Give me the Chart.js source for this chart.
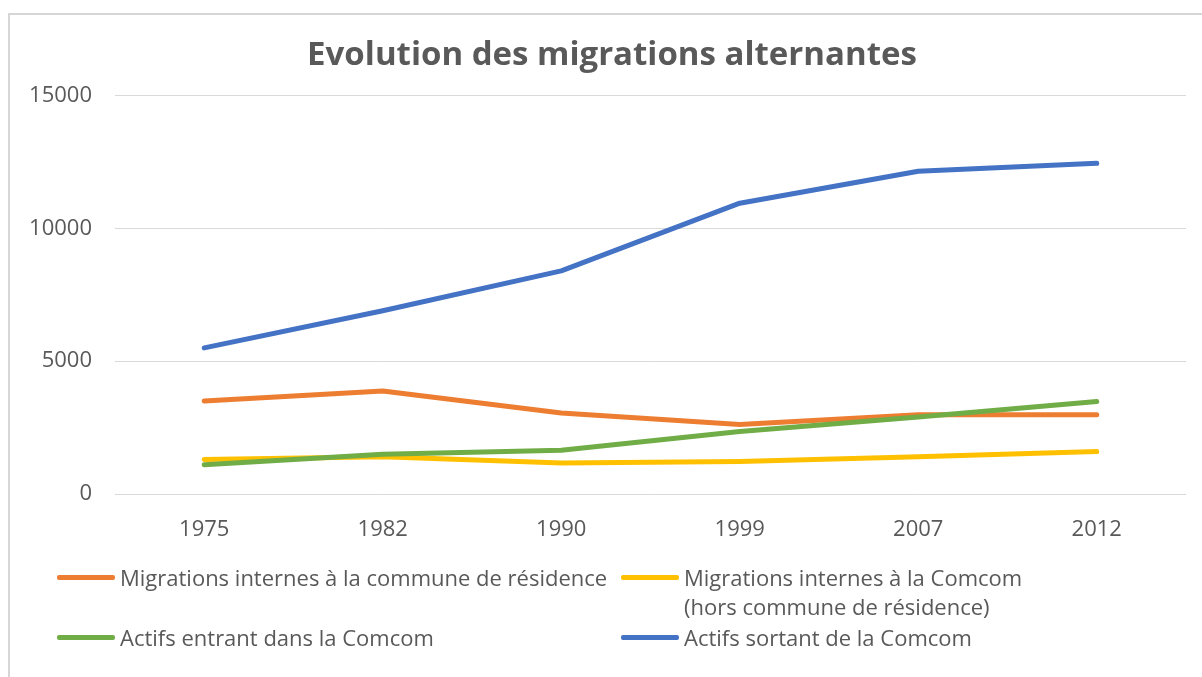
<!DOCTYPE html>
<html><head><meta charset="utf-8">
<script src="https://cdn.jsdelivr.net/npm/chart.js@4/dist/chart.umd.min.js"></script>
<style>
html,body{margin:0;padding:0;background:#fff;width:1202px;height:677px;overflow:hidden;}
#frame{position:absolute;left:8px;top:13px;width:1220px;height:700px;border-left:2px solid #d6d6d6;border-top:2px solid #d6d6d6;box-sizing:border-box;}
#wrap{position:absolute;left:0;top:0;width:1202px;height:677px;overflow:hidden;}
#legend{position:absolute;left:0;top:0;width:1202px;height:677px;pointer-events:none;font-family:"Open Sans",Lato,sans-serif;font-size:22px;color:#595959;}
.item{position:absolute;display:flex;align-items:flex-start;line-height:29px;}
.swatch{width:58px;height:5px;border-radius:2px;margin-top:12px;margin-right:5px;flex:none;}
</style></head>
<body>
<div id="frame"></div>
<div id="wrap"><canvas id="c" width="1230" height="677"></canvas></div>
<div id="legend"></div>
<script>
const categories = ['1975','1982','1990','1999','2007','2012'];
const internesCommune = [3500,3880,3050,2620,2980,2980];
const internesComcom  = [1300,1400,1170,1220,1400,1600];
const actifsEntrant   = [1100,1500,1650,2350,2900,3480];
const actifsSortant   = [5500,6900,8400,10950,12150,12450];
const yTicks = [0,5000,10000,15000];
const seriesLabels = [
  ['Migrations internes à la commune de résidence'],
  ['Migrations internes à la Comcom','(hors commune de résidence)'],
  ['Actifs entrant dans la Comcom'],
  ['Actifs sortant de la Comcom']
];
const seriesColors = ['#ED7D31','#FFC000','#70AD47','#4472C4'];
const titleText = 'Evolution des migrations alternantes';

const seriesData = [internesCommune, internesComcom, actifsEntrant, actifsSortant];
const datasets = seriesData.map((d,i)=>({
  label: seriesLabels[i].join(' '),
  data: d,
  yAxisID: 'y',
  borderColor: seriesColors[i],
  backgroundColor: seriesColors[i],
  borderWidth: 5,
  pointRadius: 0,
  tension: 0,
  borderCapStyle: 'round',
  borderJoinStyle: 'round',
  fill: false,
  order: 4 - i
}));

const FONT = '"Open Sans", Lato, sans-serif';
const chart = new Chart(document.getElementById('c'), {
  type: 'line',
  data: { labels: categories, datasets },
  options: {
    responsive: false,
    animation: false,
    layout: { padding: { left: 10, right: 16, top: 0, bottom: 123 } },
    plugins: {
      legend: { display: false },
      tooltip: { enabled: false },
      title: {
        display: true, text: titleText, color: '#595959',
        font: { family: FONT, size: 33, weight: 'bold' },
        padding: { top: 36, bottom: 20 }
      }
    },
    scales: {
      x: {
        offset: true,
        grid: { display: false, drawTicks: false },
        border: { display: false },
        ticks: { color: '#595959', font: { family: FONT, size: 22 }, padding: 23, maxRotation: 0 },
        afterFit: s => { s.height = 60; }
      },
      y: {
        min: 0, max: 15000,
        afterBuildTicks: s => { s.ticks = yTicks.map(v => ({ value: v })); },
        grid: { color: '#d9d9d9', lineWidth: 1, drawTicks: false },
        border: { display: false },
        ticks: { color: '#595959', font: { family: FONT, size: 22 }, padding: 23, callback: v => String(v) },
        afterFit: s => { s.width = 105; }
      },
      yRight: {
        position: 'right', min: 0, max: 15000,
        grid: { display: false, drawTicks: false },
        border: { display: false },
        ticks: { display: false },
        afterFit: s => { s.width = 28; }
      }
    }
  }
});

// HTML legend built from chart datasets
const legendPos = [[57,563],[621,563],[57,623],[621,623]];
const leg = document.getElementById('legend');
chart.data.datasets.forEach((ds,i)=>{
  const it = document.createElement('div');
  it.className = 'item';
  it.style.left = legendPos[i][0]+'px';
  it.style.top = legendPos[i][1]+'px';
  const sw = document.createElement('div');
  sw.className = 'swatch';
  sw.style.background = ds.borderColor;
  const tx = document.createElement('div');
  tx.innerHTML = seriesLabels[i].join('<br>');
  it.appendChild(sw); it.appendChild(tx);
  leg.appendChild(it);
});
</script>
</body></html>
